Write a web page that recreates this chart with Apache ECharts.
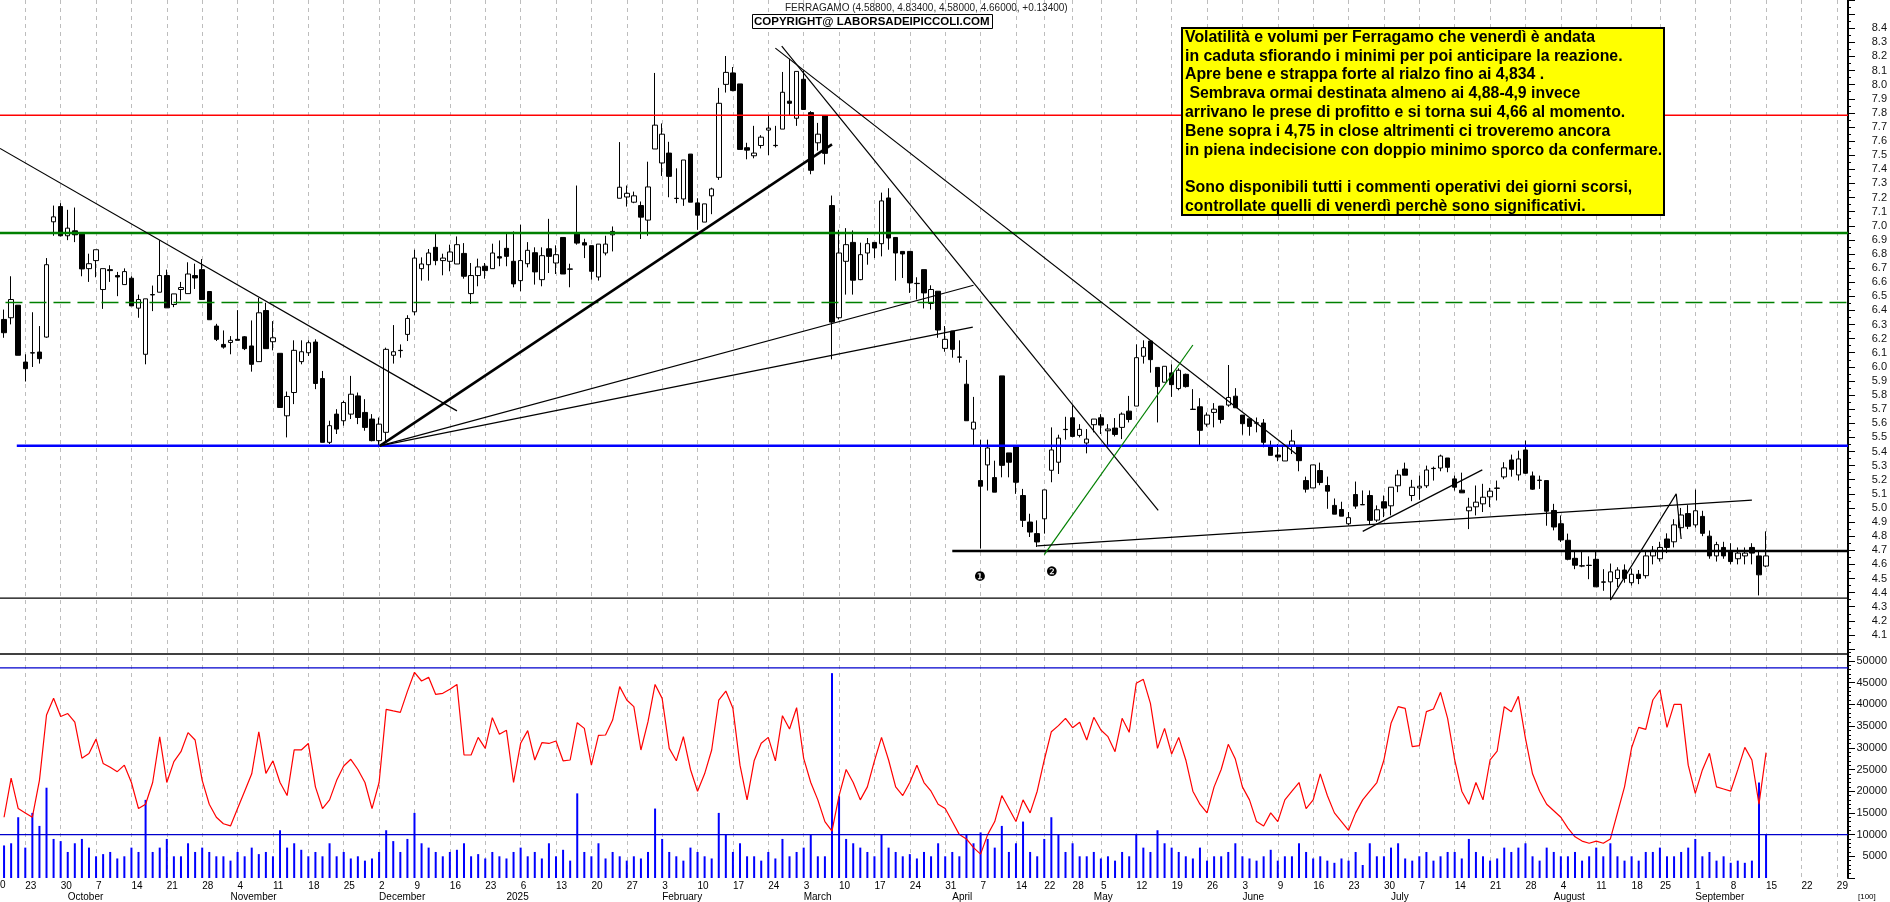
<!DOCTYPE html>
<html><head><meta charset="utf-8">
<style>html,body{margin:0;padding:0;background:#fff}#c{width:1890px;height:902px}</style>
<script src="https://cdn.jsdelivr.net/npm/echarts@6/dist/echarts.min.js"></script>
</head><body><div id="c"></div>
<script>
const opens=[6.336,6.348,6.437,6.034,6.100,6.105,6.211,7.028,7.136,6.929,
6.964,6.941,6.696,6.753,6.548,6.689,6.647,6.583,6.628,6.416,
6.089,6.512,6.529,6.647,6.442,6.548,6.519,6.647,6.689,6.534,
6.289,6.159,6.173,6.195,6.213,6.148,6.037,6.399,6.178,6.096,
5.653,5.818,6.037,6.100,6.176,5.917,5.465,5.665,5.618,5.665,
5.794,5.677,5.630,5.477,5.536,6.082,6.117,6.230,6.390,6.696,
6.724,6.847,6.753,6.748,6.729,6.804,6.519,6.647,6.713,6.696,
6.781,6.840,6.748,6.611,6.731,6.809,6.618,6.837,6.736,6.917,
6.694,6.943,6.880,6.859,6.637,6.807,6.936,7.195,7.204,7.167,
7.143,7.040,7.544,7.445,7.515,7.195,7.190,7.508,7.162,7.026,
7.212,7.343,8.002,8.083,8.005,7.553,7.496,7.569,7.678,7.570,
7.685,7.883,7.762,8.038,7.802,7.588,7.779,7.143,6.348,6.748,
6.882,6.618,6.807,6.882,6.873,7.197,6.917,6.818,6.818,6.592,
6.689,6.449,6.536,6.131,6.254,6.070,5.877,5.559,5.194,5.305,
5.215,5.936,5.390,5.434,5.088,4.900,4.818,4.923,5.267,5.324,
5.557,5.639,5.514,5.460,5.590,5.639,5.547,5.566,5.571,5.686,
5.722,6.075,6.183,5.996,5.891,5.957,5.846,5.947,5.700,5.717,
5.594,5.677,5.722,5.729,5.792,5.658,5.632,5.603,5.602,5.437,
5.375,5.333,5.444,5.437,5.194,5.142,5.265,5.159,5.018,4.989,
4.888,5.095,5.024,5.088,4.914,5.044,5.015,5.157,5.276,5.088,
5.142,5.157,5.281,5.283,5.354,5.206,5.126,4.980,5.008,5.029,
5.079,5.141,5.220,5.340,5.234,5.411,5.227,5.197,5.194,4.982,
4.888,4.771,4.643,4.590,4.594,4.636,4.476,4.476,4.50,4.56,
4.47,4.53,4.52,4.66,4.64,4.78,4.76,4.86,4.96,4.88,
4.94,4.80,4.66,4.72,4.69,4.64,4.66,4.72,4.66,4.588];
const closes=[6.242,6.477,6.082,5.987,6.098,6.058,6.724,7.063,6.929,6.983,
6.936,6.694,6.731,6.830,6.696,6.682,6.637,6.675,6.432,6.477,
6.482,6.510,6.647,6.418,6.517,6.562,6.658,6.630,6.477,6.334,
6.195,6.140,6.188,6.188,6.129,6.018,6.383,6.129,6.206,5.712,
5.790,6.117,6.107,6.171,5.882,5.465,5.583,5.559,5.747,5.806,
5.641,5.571,5.477,5.594,6.124,6.107,6.115,6.343,6.771,6.729,
6.807,6.753,6.771,6.814,6.866,6.642,6.647,6.708,6.682,6.807,
6.771,6.783,6.588,6.753,6.826,6.673,6.788,6.783,6.795,6.658,
6.692,6.877,6.863,6.677,6.870,6.870,6.960,7.273,7.230,7.212,
7.061,7.275,7.713,7.649,7.350,7.193,7.466,7.167,7.075,7.155,
7.261,7.868,8.087,7.958,7.541,7.536,7.515,7.628,7.692,7.568,
7.946,7.868,8.094,7.824,7.393,7.649,7.513,6.317,6.807,6.866,
6.614,6.795,6.873,6.842,7.176,6.913,6.807,6.800,6.595,6.590,
6.524,6.548,6.261,6.195,6.124,6.068,5.618,5.608,5.154,5.425,
5.112,5.302,5.324,5.182,4.912,4.829,4.759,5.128,5.411,5.495,
5.555,5.507,5.557,5.488,5.630,5.587,5.559,5.521,5.665,5.627,
6.065,6.136,6.051,5.860,6.004,5.874,5.976,5.860,5.698,5.550,
5.658,5.700,5.627,5.783,5.710,5.597,5.578,5.601,5.465,5.373,
5.361,5.441,5.474,5.335,5.133,5.305,5.180,5.119,4.956,4.942,
4.931,5.013,5.022,4.912,4.987,4.999,5.147,5.234,5.232,5.147,
5.154,5.269,5.279,5.368,5.288,5.147,5.107,5.006,5.041,5.076,
5.119,5.139,5.284,5.274,5.347,5.246,5.133,5.195,4.977,4.865,
4.773,4.636,4.594,4.588,4.592,4.441,4.474,4.547,4.56,4.50,
4.53,4.50,4.66,4.70,4.72,4.72,4.88,4.95,4.87,4.98,
4.82,4.66,4.74,4.66,4.62,4.68,4.68,4.68,4.526,4.66];
const lows=[6.206,6.301,6.082,5.896,5.999,6.023,6.206,6.929,6.924,6.898,
6.884,6.642,6.602,6.635,6.411,6.602,6.501,6.583,6.432,6.348,
6.018,6.395,6.529,6.418,6.423,6.472,6.519,6.552,6.477,6.334,
6.183,6.129,6.089,6.188,6.119,5.966,6.037,6.129,6.117,5.712,
5.500,5.736,6.018,6.077,5.842,5.465,5.453,5.524,5.583,5.630,
5.594,5.547,5.472,5.430,5.465,6.023,6.065,6.183,6.366,6.611,
6.611,6.720,6.649,6.677,6.729,6.625,6.446,6.571,6.625,6.696,
6.713,6.713,6.564,6.536,6.705,6.583,6.571,6.665,6.658,6.658,
6.564,6.866,6.771,6.618,6.611,6.790,6.818,7.195,7.136,7.160,
6.906,6.929,7.544,7.353,7.202,7.160,7.141,7.167,6.971,7.026,
7.082,7.325,7.944,7.953,7.541,7.471,7.478,7.548,7.501,7.555,
7.685,7.784,7.708,7.824,7.365,7.532,7.435,6.053,6.336,6.512,
6.512,6.614,6.724,6.771,6.783,6.830,6.611,6.630,6.524,6.477,
6.414,6.406,6.206,6.107,6.065,6.030,5.618,5.441,4.712,5.123,
5.112,5.217,5.217,5.100,4.865,4.794,4.723,4.818,5.182,5.241,
5.484,5.500,5.500,5.387,5.536,5.524,5.441,5.507,5.488,5.606,
5.722,6.023,5.959,5.606,5.891,5.787,5.834,5.853,5.698,5.441,
5.576,5.571,5.599,5.717,5.710,5.519,5.512,5.536,5.430,5.373,
5.331,5.333,5.382,5.260,5.109,5.142,5.161,4.994,4.956,4.942,
4.876,4.994,5.022,4.884,4.900,4.935,4.947,5.112,5.232,5.048,
5.058,5.142,5.194,5.260,5.253,5.123,5.107,4.850,4.947,4.971,
5.006,5.053,5.204,5.222,5.194,5.241,5.128,5.135,4.874,4.841,
4.759,4.629,4.566,4.580,4.495,4.441,4.413,4.354,4.44,4.47,
4.45,4.46,4.50,4.60,4.62,4.68,4.72,4.83,4.85,4.86,
4.80,4.64,4.62,4.64,4.60,4.60,4.60,4.60,4.38,4.58];
const highs=[6.406,6.642,6.437,6.089,6.387,6.289,6.771,7.143,7.160,7.113,
7.129,6.948,6.802,6.830,6.696,6.720,6.673,6.698,6.642,6.512,
6.482,6.576,6.898,6.689,6.517,6.602,6.741,6.731,6.764,6.534,
6.305,6.258,6.218,6.402,6.218,6.329,6.489,6.454,6.324,6.096,
5.825,6.188,6.188,6.188,6.195,5.971,5.618,5.700,5.759,5.936,
5.818,5.771,5.665,5.641,6.136,6.296,6.159,6.366,6.830,6.776,
6.835,6.941,6.802,6.866,6.924,6.877,6.736,6.767,6.736,6.873,
6.896,6.948,6.960,7.007,6.884,6.847,6.847,7.049,6.861,6.917,
6.731,7.285,6.908,6.859,6.870,6.929,6.995,7.593,7.285,7.242,
7.172,7.454,8.083,7.725,7.595,7.407,7.466,7.508,7.195,7.155,
7.270,7.977,8.203,8.125,8.005,7.588,7.708,7.642,7.784,7.708,
8.090,8.184,8.094,8.101,7.812,7.729,7.779,7.214,6.971,6.983,
6.967,6.880,6.913,6.882,7.235,7.266,6.917,6.818,6.818,6.635,
6.689,6.578,6.536,6.289,6.254,6.188,6.049,5.787,5.484,5.484,
5.335,5.936,5.390,5.434,5.135,4.959,4.912,5.128,5.571,5.519,
5.646,5.728,5.594,5.559,5.630,5.665,5.594,5.637,5.677,5.794,
6.159,6.188,6.183,5.996,6.004,6.018,5.990,5.952,5.842,5.778,
5.677,5.743,5.722,6.013,5.849,5.658,5.632,5.641,5.630,5.477,
5.453,5.441,5.554,5.441,5.222,5.305,5.321,5.222,5.067,5.044,
4.971,5.187,5.124,5.124,5.018,5.088,5.147,5.270,5.321,5.199,
5.229,5.300,5.293,5.378,5.354,5.229,5.250,5.072,5.159,5.171,
5.142,5.194,5.324,5.378,5.406,5.477,5.258,5.229,5.194,5.029,
4.947,4.818,4.688,4.688,4.657,4.688,4.566,4.606,4.58,4.60,
4.57,4.56,4.70,4.73,4.76,4.82,4.92,5.00,5.02,5.13,
4.98,4.84,4.76,4.76,4.75,4.72,4.72,4.75,4.70,4.834];
const volumes=[7500,8000,14000,7000,15000,12000,20800,9000,8500,6000,
8000,9000,7000,5000,5500,6000,4500,5000,7000,6000,
18000,6000,7000,9000,5000,5000,8000,6000,7000,6000,
5000,5000,4000,6000,5000,7000,5500,6000,5000,11000,
7000,8000,6500,5000,6000,5000,8000,5000,6000,4500,
5000,4000,4500,6000,11000,8500,6000,9000,15000,8000,
7000,6000,5000,6000,6500,8000,5000,5500,4500,6000,
5000,4500,6000,7000,5000,6000,4500,8000,5000,6500,
4000,19500,6000,5000,8000,4500,6000,5000,4000,5000,
4500,6000,16000,9000,6000,5000,4000,7000,6000,5000,
4500,15000,10000,6000,8000,5000,5000,4000,6000,4500,
9000,5000,6000,7000,10000,5000,5000,47200,18800,9000,
8000,7000,6000,5000,10000,7000,6000,5000,5500,4500,
6000,5000,8000,5000,6000,5000,10000,8000,10500,9000,
7000,12000,6000,8000,13000,6000,5000,9000,14000,10000,
6000,8000,5000,5000,6000,4500,5000,4000,6000,5000,
10000,7000,6000,11000,8000,7000,6000,5000,4500,7000,
4000,5000,5000,6000,8000,5000,4500,4000,5000,6500,
4000,5000,5000,8000,6000,4500,5000,4000,3500,4500,
4000,6000,3000,8000,5000,5000,7000,8000,4500,4000,
5000,6000,4000,5000,6000,6000,4500,9000,6000,5000,
4000,4500,7000,6000,7000,8000,5000,4000,7000,6000,
5000,5000,6000,4000,5000,7000,5000,8000,5000,4000,
5000,4000,6000,6000,7000,5000,5000,6000,7000,9000,
5000,6000,4000,5000,3500,4000,3500,4000,22000,10000];
const volumeAverage=[14000,23000,16000,15000,14000,22500,37550,41400,37200,37900,
35900,27600,28700,32000,26400,25500,24500,26000,22000,16000,
17000,22000,32500,22000,26800,29100,33500,31800,22500,17000,
14000,12500,12000,16000,20000,24000,33700,24100,27000,22000,
19000,29500,29500,31000,21000,16000,18000,22500,25800,27350,
25000,22000,16000,22000,38860,38500,38170,43000,47390,45390,
46230,42300,42550,43500,44600,28340,28340,32400,29870,36950,
33100,34020,22000,31030,33950,27190,31180,31000,31570,27000,
27190,35790,34480,26000,32870,32950,36400,44090,41010,39480,
29490,36020,44600,41390,29870,27000,32570,25000,20000,24000,
29490,41010,43080,39090,26000,18000,27000,31030,32400,27000,
37400,34330,39240,27570,22000,18000,13000,10800,19000,25000,
22000,18000,21000,27000,32400,27190,21000,19000,22000,26000,
22000,20000,17000,16000,13000,10000,9000,7000,5500,10000,
13000,19000,16000,13000,18000,15000,20000,27190,33710,35100,
36790,34630,35870,31800,37020,34100,32570,29100,36790,33560,
44860,45780,40240,29870,34480,28570,32400,27190,20000,17000,
15000,21000,25000,30800,27400,21000,18000,13000,12000,15000,
13000,18000,20000,22000,16000,18000,24000,19000,15000,13000,
11000,15000,18000,20000,22000,27190,35640,39480,39090,30260,
30490,38330,38940,42780,36790,27190,20000,17000,22000,18000,
27190,29260,39480,38330,41860,32180,24000,20000,17000,15500,
14000,11500,9500,8500,8000,8500,8000,9000,15000,21000,
30000,34710,34250,41010,43320,34710,40010,40010,26000,19500,
24900,28720,21000,20500,20000,24900,30100,27190,17000,28900];

const weekBars=[3,8,13,18,23,28,33,38,43,48,53,58,63,68,73,78,83,88,93,98,103,108,113,118,123,128,133,138,143,147,151,155,160,165,170,175,180,185,190,195,200,205,210,215,220,225,230,234,239,244,249,254,259];
const weekLabels=['23','30','7','14','21','28','4','11','18','25','2','9','16','23','6','13','20','27','3','10','17','24','3','10','17','24','31','7','14','22','28','5','12','19','26','3','9','16','23','30','7','14','21','28','4','11','18','25','1','8','15','22','29'];
const monthBars=[9,32,53,71,93,113,134,154,175,196,219,239];
const monthLabels=['October','November','December','2025','February','March','April','May','June','July','August','September'];

const X0=-0.573, X1=260.58;
const redLevel=[[X0,7.784],[X1,7.784]];
const greenLevel=[[X0,6.948],[X1,6.948]];
const greenDashed=[[0.2,6.456],[X1,6.456]];
const blueLevel=[[1.8,5.441],[X1,5.441]];
const supportLevel=[[134,4.695],[X1,4.695]];
const lowLevel=[[X0,4.361],[X1,4.361]];
const trendA=[[X0,7.548],[64,5.688]];
const trendThick=[[53.1,5.44],[117,7.577]];
const trendB=[[53.1,5.44],[137,6.578]];
const trendC=[[53.1,5.44],[136.9,6.282]];
const trendD=[[109.9,8.273],[163.1,4.982]];
const trendE=[[109,8.259],[182.6,5.382]];
const trendGreen=[[147,4.669],[168,6.155]];
const trendF=[[146,4.731],[247,5.055]];
const trendG=[[192,4.834],[208.9,5.270]];
const trendH=[[227,4.347],[236.3,5.10],[237,4.78]];

const volTop=48400, volTen=10000, volSep=51610;

const noteLines=['Volatilità e volumi per Ferragamo che venerdì è andata','in caduta sfiorando i minimi per poi anticipare la reazione.','Apre bene e strappa forte al rialzo fino ai 4,834 .',' Sembrava ormai destinata almeno ai 4,88-4,9 invece','arrivano le prese di profitto e si torna sui 4,66 al momento.','Bene sopra i 4,75 in close altrimenti ci troveremo ancora','in piena indecisione con doppio minimo sporco da confermare.','','Sono disponibili tutti i commenti operativi dei giorni scorsi,','controllate quelli di venerdì perchè sono significativi.'];

const FONT='"Liberation Sans",Arial,sans-serif';
const chart=echarts.init(document.getElementById('c'),null,{renderer:'canvas'});
const candle=opens.map((o,i)=>[i,o,closes[i],lows[i],highs[i]]);
const lineS=(data,color,width,type,grid)=>({type:'line',data,xAxisIndex:grid||0,yAxisIndex:grid||0,showSymbol:false,symbol:'none',silent:true,animation:false,z:5,lineStyle:{color,width,type:type||'solid'}});
const gridSplit={show:true,lineStyle:{color:'#bdbdbd',width:1,type:[4,4]}};
const labelMap={};weekBars.forEach((b,i)=>labelMap[b]=weekLabels[i]);
const monthMap={};monthBars.forEach((b,i)=>monthMap[b]=monthLabels[i]);
const graphic=[
 {type:'text',left:785,top:3,z:50,style:{text:'FERRAGAMO (4.58800, 4.83400, 4.58000, 4.66000, +0.13400)',font:'10px '+FONT,fill:'#222'}},
 {type:'rect',z:50,shape:{x:752.5,y:14.5,width:240,height:14},style:{fill:'#fff',stroke:'#000',lineWidth:1}},
 {type:'text',z:51,left:754,top:16,style:{text:'COPYRIGHT@ LABORSADEIPICCOLI.COM',font:'bold 11.5px '+FONT,fill:'#000'}},
 {type:'rect',z:50,shape:{x:1182,y:28,width:482,height:187},style:{fill:'#ffff00',stroke:'#000',lineWidth:2}},
 {type:'text',z:51,left:974,top:571,style:{text:'\u2776',font:'13px "DejaVu Sans"',fill:'#000'}},
 {type:'text',z:51,left:1046,top:566,style:{text:'\u2777',font:'13px "DejaVu Sans"',fill:'#000'}},
 {type:'text',z:51,left:0,top:880,style:{text:'0',font:'10px '+FONT,fill:'#000'}},
 {type:'text',z:51,left:1858,top:893,style:{text:'[100]',font:'8px '+FONT,fill:'#000'}}
];
noteLines.forEach((t,i)=>{ if(t) graphic.push({type:'text',z:52,left:1185,top:28.5+i*18.8,style:{text:t,font:'bold 15.85px '+FONT,fill:'#000',lineHeight:18}}); });
chart.setOption({
 backgroundColor:'#fff',animation:false,graphic,
 grid:[{left:0,width:1849,top:-2.32,height:651.36},{left:0,width:1849,top:649,height:229}],
 xAxis:[
  {type:'value',gridIndex:0,min:X0,max:X1,axisLine:{show:false},axisTick:{show:false,customValues:weekBars},axisLabel:{show:false,customValues:weekBars},splitLine:gridSplit},
  {type:'value',gridIndex:1,min:X0,max:X1,axisLine:{show:false},axisTick:{show:false,customValues:weekBars},axisLabel:{show:true,customValues:weekBars,margin:3,align:'left',color:'#000',fontSize:10,fontFamily:FONT,formatter:v=>labelMap[v]||''},splitLine:gridSplit},
  {type:'value',gridIndex:1,position:'bottom',min:X0,max:X1,axisLine:{show:false},axisTick:{show:false,customValues:monthBars},axisLabel:{show:true,customValues:monthBars,margin:14,align:'left',color:'#000',fontSize:10,fontFamily:FONT,formatter:v=>monthMap[v]||''},splitLine:{show:false}}
 ],
 yAxis:[
  {type:'value',gridIndex:0,position:'right',min:4.0,max:8.6,interval:0.1,axisLine:{show:true,onZero:false,lineStyle:{color:'#000',width:2}},axisTick:{show:true,length:7,lineStyle:{color:'#000'}},minorTick:{show:true,splitNumber:2,length:3,lineStyle:{color:'#000'}},splitLine:{show:false},
   axisLabel:{align:'right',margin:39,color:'#111',fontSize:11,fontFamily:FONT,formatter:v=>(v>8.45||v<4.05)?'':v.toFixed(1)}},
  {type:'value',gridIndex:1,position:'right',min:0,max:52762,interval:5000,axisLine:{show:true,onZero:false,lineStyle:{color:'#000',width:2}},axisTick:{show:true,length:7,lineStyle:{color:'#000'}},minorTick:{show:true,splitNumber:5,length:3,lineStyle:{color:'#000'}},splitLine:{show:false},
   axisLabel:{align:'right',margin:39,color:'#111',fontSize:11,fontFamily:FONT,formatter:v=>(v===0||v>50000)?'':String(v)}}
 ],
 series:[
  {type:'candlestick',data:candle,xAxisIndex:0,yAxisIndex:0,barWidth:5,z:3,silent:true,animation:false,large:false,
   itemStyle:{color:'#ffffff',color0:'#000000',borderColor:'#000000',borderColor0:'#000000',borderWidth:1}},
  lineS(redLevel,'#ff0000',1.5),
  lineS(greenLevel,'#008000',2.5),
  lineS(greenDashed,'#008000',1.3,[17,7]),
  lineS(blueLevel,'#0000ff',2.5),
  lineS(supportLevel,'#000',2.5),
  lineS(lowLevel,'#000',1.4),
  lineS(trendA,'#000',1.2),
  lineS(trendThick,'#000',2.5),
  lineS(trendB,'#000',1.2),
  lineS(trendC,'#000',1.2),
  lineS(trendD,'#000',1.2),
  lineS(trendE,'#000',1.2),
  lineS(trendGreen,'#008000',1.2),
  lineS(trendF,'#000',1.2),
  lineS(trendG,'#000',1.2),
  lineS(trendH,'#000',1.2),
  {type:'bar',xAxisIndex:1,yAxisIndex:1,barWidth:2,silent:true,animation:false,z:3,itemStyle:{color:'#0000ff'},data:volumes.map((v,i)=>[i,v])},
  {type:'line',xAxisIndex:1,yAxisIndex:1,showSymbol:false,symbol:'none',silent:true,animation:false,z:4,lineStyle:{color:'#ff0000',width:1.2},data:volumeAverage.map((v,i)=>[i,v])},
  lineS([[X0,volTop],[X1,volTop]],'#0000cc',1.3,null,1),
  lineS([[X0,volTen],[X1,volTen]],'#0000cc',1.3,null,1),
  lineS([[X0,volSep],[X1,volSep]],'#000',1.4,null,1)
 ]
});
</script></body></html>
